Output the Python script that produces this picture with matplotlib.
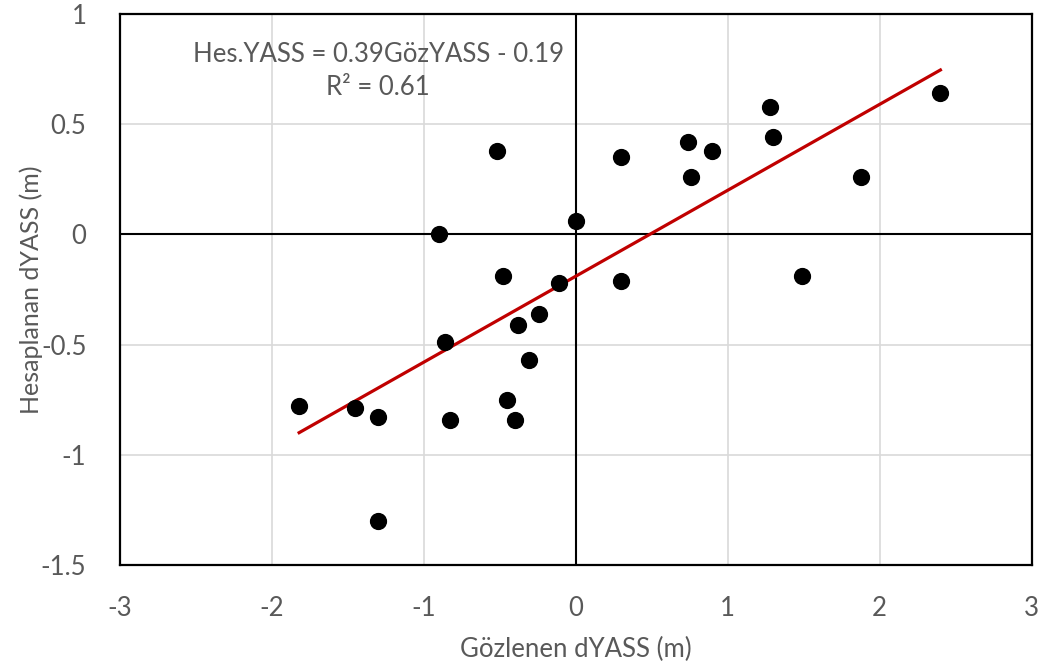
import numpy as np
from matplotlib import pyplot as plt

gozlenen = np.array([-1.82, -1.45, -1.30, -1.30, -0.90, -0.86, -0.83, -0.52, -0.48, -0.45,
                     -0.40, -0.38, -0.31, -0.24, -0.11, 0.00, 0.30, 0.30, 0.74, 0.76,
                     0.90, 1.28, 1.30, 1.49, 1.88, 2.40])
hesaplanan = np.array([-0.78, -0.79, -0.83, -1.30, 0.00, -0.49, -0.84, 0.38, -0.19, -0.75,
                       -0.84, -0.41, -0.57, -0.36, -0.22, 0.06, 0.35, -0.21, 0.42, 0.26,
                       0.38, 0.58, 0.44, -0.19, 0.26, 0.64])

# trendline as shown in the chart label
slope = 0.39
intercept = -0.19
eqText = "Hes.YASS = 0.39GözYASS - 0.19\nR² = 0.61"

xTicks = [-3, -2, -1, 0, 1, 2, 3]
yTicks = [-1.5, -1, -0.5, 0, 0.5, 1]

plt.rcParams['font.family'] = ['Lato', 'DejaVu Sans']
gray = "#595959"

fig = plt.figure(figsize=(10.42, 6.67), dpi=100)
ax = fig.add_axes([0.115, 0.153, 0.875, 0.826])

ax.set_xlim(-3, 3)
ax.set_ylim(-1.5, 1)
ax.set_xticks(xTicks)
ax.set_yticks(yTicks)
ax.set_xticklabels([f"{t:g}" for t in xTicks])
ax.set_yticklabels([f"{t:g}" for t in yTicks])
ax.grid(True, color="#D9D9D9", linewidth=1.2, zorder=0)
ax.set_axisbelow(True)
ax.tick_params(length=0, labelsize=18.5, labelcolor=gray)
ax.tick_params(axis='x', pad=22)
ax.tick_params(axis='y', pad=24)
for s in ax.spines.values():
    s.set_linewidth(1.6)
    s.set_color("black")

ax.axhline(0, color="black", linewidth=1.5, zorder=1)
ax.axvline(0, color="black", linewidth=1.5, zorder=1)

xFit = np.array([gozlenen.min(), gozlenen.max()])
ax.plot(xFit, slope * xFit + intercept, color="#C00000", linewidth=2.3, zorder=2)
ax.scatter(gozlenen, hesaplanan, s=130, color="black", zorder=3)

ax.text(-1.30, 0.74, eqText, ha="center", va="center", fontsize=18.5, color=gray, linespacing=1.4)

ax.set_xlabel("Gözlenen dYASS (m)", fontsize=18.5, color=gray, labelpad=12)
ax.set_ylabel("Hesaplanan dYASS (m)", fontsize=18, color=gray, va="center")
ax.yaxis.set_label_coords(-0.097, 0.5)

fig.savefig("out.png", dpi=100)
